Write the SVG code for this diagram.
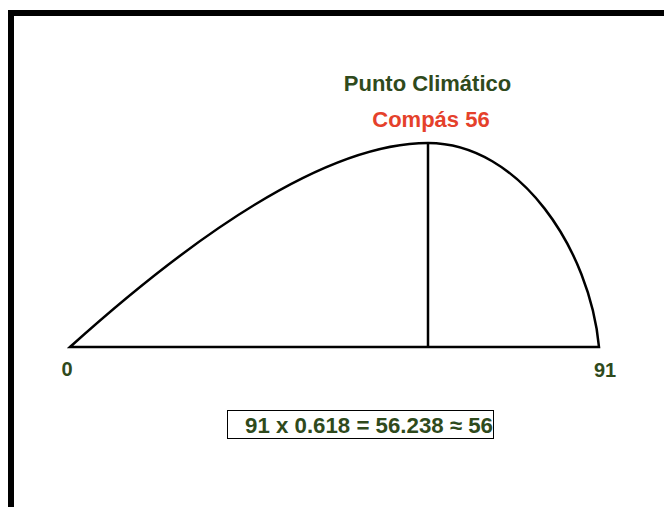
<svg xmlns="http://www.w3.org/2000/svg" width="664" height="507" viewBox="0 0 664 507">
<style>
.t{font-family:"Liberation Sans",Arial,sans-serif;font-weight:bold}
.g{fill:#2f4a1c}
.r{fill:#e5412b}
.ln{fill:none;stroke:#000;stroke-width:2.5}
</style>
<rect width="664" height="507" fill="#fff"/>
<g id="frame">
<rect x="8" y="10" width="656" height="6" fill="#000"/>
<rect x="8" y="10" width="6" height="497" fill="#000"/>
</g>
<g id="connectors">
<path class="ln" d="M70,347 C200,230 330,143 428,143 C520,143 590,250 599,347 Z"/>
<line class="ln" x1="428" y1="143" x2="428" y2="347"/>
</g>
<g id="titles">
<text class="t g" x="427.5" y="91" font-size="22" text-anchor="middle">Punto Climático</text>
<text class="t r" x="431" y="127" font-size="22" text-anchor="middle">Compás 56</text>
</g>
<g id="labels">
<text class="t g" x="67" y="376" font-size="20" text-anchor="middle">0</text>
<text class="t g" x="605" y="377" font-size="20" text-anchor="middle">91</text>
</g>
<g id="formula">
<rect x="227.5" y="410.5" width="266" height="28" fill="none" stroke="#000" stroke-width="1"/>
<text class="t g" x="245" y="432.5" font-size="22" textLength="248" lengthAdjust="spacingAndGlyphs">91 x 0.618 = 56.238 ≈ 56</text>
</g>
</svg>
